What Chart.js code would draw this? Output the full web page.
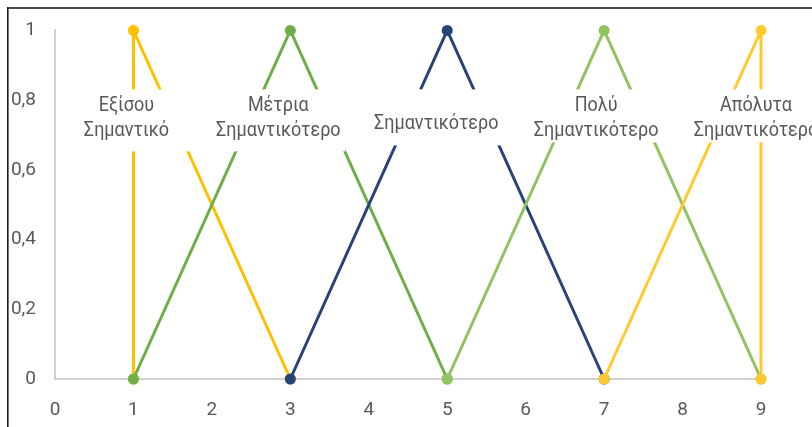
<!DOCTYPE html>
<html>
<head>
<meta charset="utf-8">
<script src="https://cdn.jsdelivr.net/npm/chart.js@4.4.1/dist/chart.umd.min.js"></script>
<style>
  html, body { margin: 0; padding: 0; background: #fff; }
  #wrap { width: 812px; height: 427px; position: relative; }
</style>
</head>
<body>
<div id="wrap"><canvas id="c" width="812" height="427"></canvas></div>
<script>
// Triangular fuzzy scale: one series per linguistic term
const seriesNames = [
  'Εξίσου Σημαντικό',
  'Μέτρια Σημαντικότερο',
  'Σημαντικότερο',
  'Πολύ Σημαντικότερο',
  'Απόλυτα Σημαντικότερο'
];
const labelLines = [
  ['Εξίσου', 'Σημαντικό'],
  ['Μέτρια', 'Σημαντικότερο'],
  ['Σημαντικότερο'],
  ['Πολύ', 'Σημαντικότερο'],
  ['Απόλυτα', 'Σημαντικότερο']
];
const xValues = [
  [1, 1, 3],
  [1, 3, 5],
  [3, 5, 7],
  [5, 7, 9],
  [7, 9, 9]
];
const yValues = [
  [0, 1, 0],
  [0, 1, 0],
  [0, 1, 0],
  [0, 1, 0],
  [0, 1, 0]
];

const xTicks = [0, 1, 2, 3, 4, 5, 6, 7, 8, 9];
const yTicks = [0, 0.2, 0.4, 0.6, 0.8, 1];

const colors = ['#FFC000', '#70AD47', '#264478', '#8FC460', '#FFCA2E'];
// label box placement relative to the peak point (pixels)
const labelDx = [-7, -12, -11, -8, -5];
const labelBoxBottom = [121, 121, 115, 112, 112];
const textStretch = 1.15;

const datasets = seriesNames.map((name, i) => ({
  label: name,
  data: xValues[i].map((x, j) => ({ x: x, y: yValues[i][j] })),
  showLine: true,
  borderColor: colors[i],
  backgroundColor: colors[i],
  pointBackgroundColor: colors[i],
  pointBorderColor: colors[i],
  borderWidth: 3,
  pointRadius: 5.5,
  pointBorderWidth: 0,
  tension: 0,
  clip: false,
  order: seriesNames.length - i
}));

function stretchedText(ctx, text, x, baseline) {
  ctx.save();
  ctx.translate(x, baseline);
  ctx.scale(1, textStretch);
  ctx.fillText(text, 0, 0);
  ctx.restore();
}

const frameAndLabels = {
  id: 'frameAndLabels',
  beforeDraw(chart) {
    const ctx = chart.ctx;
    ctx.save();
    ctx.fillStyle = '#ffffff';
    ctx.fillRect(0, 0, chart.width, chart.height);
    ctx.fillStyle = '#4a4a4a';
    ctx.fillRect(7, 7, chart.width - 7, 2);
    ctx.fillStyle = '#1a1a1a';
    ctx.fillRect(7, 7, 1.6, chart.height - 7);
    ctx.restore();
  },
  afterDatasetsDraw(chart) {
    const ctx = chart.ctx;
    const xs = chart.scales.x, ys = chart.scales.y;
    ctx.save();
    ctx.font = '18px Roboto';
    ctx.textAlign = 'center';
    ctx.textBaseline = 'alphabetic';
    seriesNames.forEach((name, i) => {
      const k = yValues[i].indexOf(1);
      const px = xs.getPixelForValue(xValues[i][k]);
      const py = ys.getPixelForValue(yValues[i][k]);
      const cx = px + labelDx[i];
      const boxW = 134;
      const top = py + 59;
      const bottom = py + labelBoxBottom[i];
      ctx.fillStyle = '#ffffff';
      ctx.fillRect(cx - boxW / 2, top, boxW, bottom - top);
      ctx.fillStyle = '#595959';
      const lines = labelLines[i];
      if (lines.length === 1) {
        stretchedText(ctx, lines[0], cx, py + 99);
      } else {
        stretchedText(ctx, lines[0], cx, py + 81);
        stretchedText(ctx, lines[1], cx, py + 106);
      }
    });
    ctx.restore();
  }
};

new Chart(document.getElementById('c'), {
  type: 'scatter',
  data: { datasets },
  options: {
    responsive: false,
    animation: false,
    events: [],
    layout: { padding: { top: 30, right: 51, bottom: 0, left: 0 } },
    plugins: { legend: { display: false }, tooltip: { enabled: false } },
    scales: {
      x: {
        type: 'linear',
        min: 0,
        max: 9,
        afterBuildTicks(scale) { scale.ticks = xTicks.map(v => ({ value: v })); },
        afterFit(scale) { scale.height = 48; },
        grid: { display: false, drawTicks: false },
        border: { display: true, color: '#d0d0d0', width: 2 },
        ticks: {
          padding: 20,
          color: '#595959',
          font: { family: 'Roboto', size: 19 },
          maxRotation: 0,
          autoSkip: false
        }
      },
      y: {
        type: 'linear',
        min: 0,
        max: 1,
        afterBuildTicks(scale) { scale.ticks = yTicks.map(v => ({ value: v })); },
        afterFit(scale) { scale.width = 55; },
        grid: { display: false, drawTicks: false },
        border: { display: true, color: '#d0d0d0', width: 2 },
        ticks: {
          padding: 19,
          color: '#595959',
          font: { family: 'Roboto', size: 19 },
          callback: v => String(Math.round(v * 10) / 10).replace('.', ',')
        }
      }
    }
  },
  plugins: [frameAndLabels]
});
</script>
</body>
</html>
